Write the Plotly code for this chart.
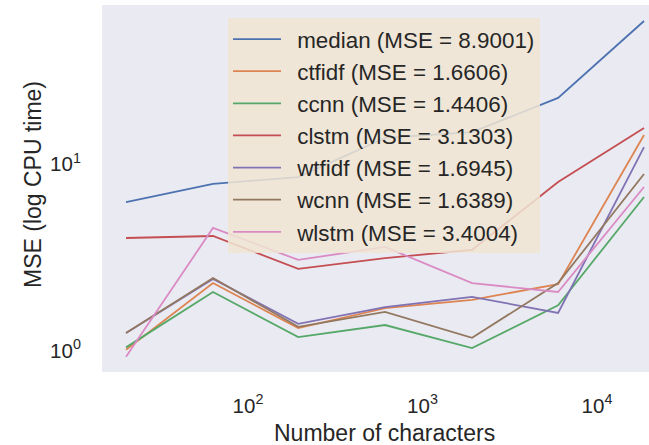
import numpy as np
import plotly.graph_objects as go

n_chars = [20, 63, 194, 610, 1923, 5985, 18600]

series_names = ["median", "ctfidf", "ccnn", "clstm", "wtfidf", "wcnn", "wlstm"]
series_mse = ["8.9001", "1.6606", "1.4406", "3.1303", "1.6945", "1.6389", "3.4004"]
median_vals = [6.25, 7.82, 8.51, 13.8, 14.8, 22.6, 58.4]
ctfidf_vals = [1.01, 2.30, 1.32, 1.69, 1.87, 2.27, 14.3]
ccnn_vals = [1.04, 2.06, 1.18, 1.37, 1.03, 1.75, 6.65]
clstm_vals = [4.01, 4.11, 2.74, 3.13, 3.46, 8.0, 15.6]
wtfidf_vals = [1.24, 2.42, 1.39, 1.71, 1.94, 1.59, 12.3]
wcnn_vals = [1.24, 2.45, 1.34, 1.61, 1.17, 2.30, 8.84]
wlstm_vals = [0.925, 4.54, 3.06, 3.59, 2.30, 2.06, 7.53]

x_tickvals = [100, 1000, 10000]
x_ticktext = ["10<sup>2</sup>", "10<sup>3</sup>", "10<sup>4</sup>"]
y_tickvals = [1, 10]
y_ticktext = ["10<sup>0</sup>", "10<sup>1</sup>"]

colors = ["#4C72B0", "#DD8452", "#55A868", "#C44E52", "#8172B3", "#937860", "#DA8BC3"]
all_vals = [median_vals, ctfidf_vals, ccnn_vals, clstm_vals, wtfidf_vals, wcnn_vals, wlstm_vals]

FONT = "Liberation Sans, Arial, sans-serif"
TXT = "#262626"

fig = go.Figure()
for name, mse, vals, c in zip(series_names, series_mse, all_vals, colors):
    fig.add_trace(go.Scatter(
        x=n_chars, y=vals, mode="lines",
        name=f"\u2002{name} (MSE = {mse})",
        legendgroup=name,
        line=dict(color=c, width=1.8),
    ))

W, H = 649, 445
L, R, T, B = 102, 0, 5, 73
pw = W - L - R
ph = H - T - B

fig.update_layout(
    width=W, height=H,
    margin=dict(l=L, r=R, t=T, b=B, pad=0),
    paper_bgcolor="white",
    plot_bgcolor="#EAEAF2",
    font=dict(family=FONT, color=TXT, size=20),
    showlegend=True,
    hovermode=False,
    legend=dict(
        x=(228 - L) / pw, y=1 - (18 - T) / ph,
        xanchor="left", yanchor="top",
        bgcolor="rgba(240,229,212,0.85)",
        borderwidth=0,
        font=dict(family=FONT, size=22.4, color=TXT),
        traceorder="grouped",
        tracegroupgap=0,
        itemwidth=48,
    ),
    xaxis=dict(
        type="log", range=[1.1633, 4.298],
        showgrid=False, zeroline=False, showline=False,
        tickvals=x_tickvals, ticktext=x_ticktext,
        ticks="outside", ticklen=15, tickcolor="rgba(0,0,0,0)",
        tickfont=dict(family=FONT, size=20.5, color=TXT),
    ),
    yaxis=dict(
        type="log", range=[-0.115, 1.852],
        showgrid=False, zeroline=False, showline=False,
        tickvals=y_tickvals, ticktext=y_ticktext,
        ticks="outside", ticklen=16, tickcolor="rgba(0,0,0,0)",
        tickfont=dict(family=FONT, size=20.5, color=TXT),
    ),
    annotations=[
        dict(text="Number of characters", xref="paper", yref="paper",
             x=(384 - L) / pw, y=-(433 - (H - B)) / ph,
             xanchor="center", yanchor="middle", showarrow=False,
             font=dict(family=FONT, size=23, color=TXT)),
        dict(text="MSE (log CPU time)", xref="paper", yref="paper",
             x=(33 - L) / pw, y=1 - (185 - T) / ph,
             xanchor="center", yanchor="middle", showarrow=False, textangle=-90,
             font=dict(family=FONT, size=23, color=TXT)),
    ],
)

fig.write_html("out.html",
               config={"displayModeBar": False, "staticPlot": True},
               post_script="document.body.style.margin='0px';document.body.style.overflow='hidden';")
